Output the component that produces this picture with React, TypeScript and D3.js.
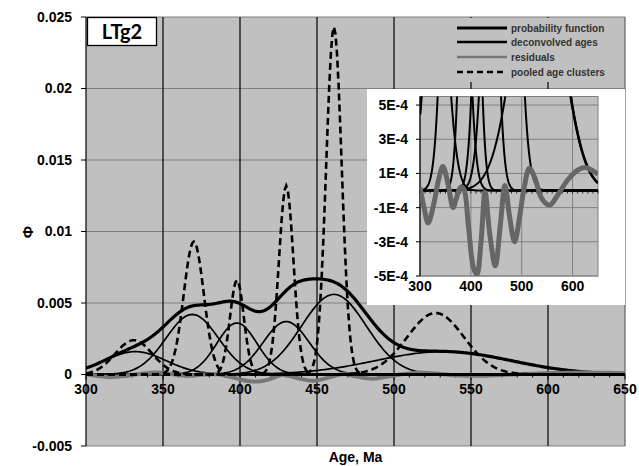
import React from 'react';
import * as d3 from 'd3';

// Axis ticks
const ageTicks = [300, 350, 400, 450, 500, 550, 600, 650];
const phiTicks = [-0.005, 0, 0.005, 0.01, 0.015, 0.02, 0.025];
const phiTickLabels = ['-0.005', '0', '0.005', '0.01', '0.015', '0.02', '0.025'];
const insetAgeTicks = [300, 400, 500, 600];
const insetPhiTicks = [-5e-4, -3e-4, -1e-4, 1e-4, 3e-4, 5e-4];
const insetPhiLabels = ['-5E-4', '-3E-4', '-1E-4', '1E-4', '3E-4', '5E-4'];

// Deconvolved age components: centre (Ma), peak height, standard deviation (Ma)
const componentAges = [332, 369, 398, 430, 461, 532];
const componentHeights = [0.0016, 0.0042, 0.0036, 0.0037, 0.0056, 0.0016];
const componentSigmas = [20, 17, 13, 15, 21, 44];

// Pooled age clusters: centre (Ma), peak height, standard deviation (Ma)
const clusterAges = [331, 370, 398, 430, 461, 527];
const clusterHeights = [0.0024, 0.0093, 0.0066, 0.0132, 0.0243, 0.0043];
const clusterSigmas = [12, 6.5, 4.5, 4.7, 5, 18.5];

// Residuals (observed minus model)
const residualAges = [300, 308, 316, 327, 337, 345, 355, 365, 372, 380, 386, 395, 405, 412, 420, 428, 437, 448, 458, 467, 476, 486, 496, 505, 515, 525, 540, 555, 570, 590, 610, 625, 640, 650];
const residualValues = [0.2e-4, -1.0e-4, -1.9e-4, -0.8e-4, 0.7e-4, 1.4e-4, 0.4e-4, -1.0e-4, -0.4e-4, 0.2e-4, 0.1e-4, -2.0e-4, -4.5e-4, -4.9e-4, -3.0e-4, -0.1e-4, -2.5e-4, -4.4e-4, -2.0e-4, 0.3e-4, -1.5e-4, -3.0e-4, -1.5e-4, 0.2e-4, 1.3e-4, 0.8e-4, -0.5e-4, -0.85e-4, -0.3e-4, 0.6e-4, 1.2e-4, 1.35e-4, 1.15e-4, 0.95e-4];

const legendLabels = ['probability function', 'deconvolved ages', 'residuals', 'pooled age clusters'];

const FONT = '"Liberation Sans", Arial, sans-serif';
const W = 639;
const H = 466;

const ageGrid = d3.range(300, 650.01, 1);
const gauss = (a: number, m: number, h: number, s: number) => h * Math.exp(-((a - m) * (a - m)) / (2 * s * s));

type Pt = [number, number];
const componentCurves: Pt[][] = componentAges.map((m, i) =>
  ageGrid.map((a) => [a, gauss(a, m, componentHeights[i], componentSigmas[i])] as Pt)
);
const clusterCurves: Pt[][] = clusterAges.map((m, i) =>
  ageGrid.map((a) => [a, gauss(a, m, clusterHeights[i], clusterSigmas[i])] as Pt)
);
const probabilityCurve: Pt[] = ageGrid.map((a, j) => [a, d3.sum(componentCurves, (c) => c[j][1])] as Pt);
const residualCurve: Pt[] = residualAges.map((a, i) => [a, residualValues[i]] as Pt);

export default function App() {
  // main panel
  const x = d3.scaleLinear().domain([300, 650]).range([86, 625]);
  const y = d3.scaleLinear().domain([-0.005, 0.025]).range([446, 17]);
  const line = d3.line<Pt>().x((d) => x(d[0])).y((d) => y(d[1]));
  const smooth = d3.line<Pt>().x((d) => x(d[0])).y((d) => y(d[1])).curve(d3.curveCatmullRom.alpha(0.5));

  // inset panel
  const xi = d3.scaleLinear().domain([300, 650]).range([420, 598]);
  const yi = d3.scaleLinear().domain([-0.0005, 0.00055]).range([276, 96.5]);
  const lineI = d3.line<Pt>().x((d) => xi(d[0])).y((d) => yi(d[1]));
  const smoothI = d3.line<Pt>().x((d) => xi(d[0])).y((d) => yi(d[1])).curve(d3.curveCatmullRom.alpha(0.5));

  const [x0, x1] = x.range();
  const [yB, yT] = y.range();
  const [ix0, ix1] = xi.range();
  const [iyB, iyT] = yi.range();

  const minorTicks = d3.range(300, 650.01, 10);
  const legendRowsY = [28, 42, 57, 72];

  return (
    <svg width={W} height={H} style={{ position: 'absolute', left: 0, top: 0, background: '#fff' }} fontFamily={FONT}>
      <defs>
        <clipPath id="mainClip">
          <rect x={x0} y={yT} width={x1 - x0} height={yB - yT} />
        </clipPath>
        <clipPath id="insetClip">
          <rect x={ix0} y={iyT} width={ix1 - ix0} height={iyB - iyT} />
        </clipPath>
      </defs>

      {/* plot background */}
      <rect x={x0} y={yT} width={x1 - x0} height={yB - yT} fill="#c0c0c0" />

      {/* horizontal gridlines */}
      {phiTicks.filter((t) => t !== 0).map((t) => (
        <line key={'hg' + t} x1={x0} x2={x1} y1={y(t)} y2={y(t)} stroke="#808080" strokeWidth={1} />
      ))}
      {/* vertical gridlines */}
      {ageTicks.map((t) => (
        <line key={'vg' + t} x1={x(t)} x2={x(t)} y1={yT} y2={yB} stroke={t === 650 ? '#606060' : '#000'} strokeWidth={1.2} />
      ))}

      {/* y ticks */}
      {phiTicks.map((t, i) => (
        <g key={'yt' + t}>
          <line x1={x0 - 5} x2={x0} y1={y(t)} y2={y(t)} stroke="#000" />
          <text x={x0 - 14} y={y(t)} dy="0.35em" textAnchor="end" fontSize={14} fontWeight="bold" fill="#000">
            {phiTickLabels[i]}
          </text>
        </g>
      ))}

      {/* zero axis with ticks */}
      <line x1={x0} x2={x1} y1={y(0)} y2={y(0)} stroke="#000" strokeWidth={1.2} />
      {minorTicks.map((t) => (
        <line key={'mt' + t} x1={x(t)} x2={x(t)} y1={y(0)} y2={y(0) + (t % 50 === 0 ? 5 : 3)} stroke="#000" strokeWidth={1} />
      ))}
      {ageTicks.map((t) => (
        <text key={'xl' + t} x={x(t)} y={y(0) + 19} textAnchor="middle" fontSize={14} fontWeight="bold" fill="#000">
          {t}
        </text>
      ))}

      {/* series */}
      <g clipPath="url(#mainClip)" fill="none">
        {componentCurves.map((c, i) => (
          <path key={'c' + i} d={line(c) || ''} stroke="#000" strokeWidth={1.7} />
        ))}
        <path d={line(probabilityCurve) || ''} stroke="#000" strokeWidth={3.2} />
        <path d={smooth(residualCurve) || ''} stroke="#777" strokeWidth={4} />
        {clusterCurves.map((c, i) => (
          <path key={'d' + i} d={line(c) || ''} stroke="#000" strokeWidth={2.6} strokeDasharray="7,4" />
        ))}
      </g>

      {/* axis titles */}
      <text x={(x0 + x1) / 2} y={462} textAnchor="middle" fontSize={14} fontWeight="bold" fill="#000">Age, Ma</text>
      <text transform="translate(33,232) rotate(-90)" textAnchor="middle" fontSize={15} fontWeight="bold" fill="#000">Φ</text>

      {/* sample label */}
      <rect x={87.5} y={17.5} width={69} height={28} fill="#fff" stroke="#000" strokeWidth={1.3} />
      <text x={122} y={39} textAnchor="middle" fontSize={20} fontWeight="bold" fontFamily="Lato, 'Open Sans', sans-serif" fill="#000">LTg2</text>

      {/* legend */}
      <rect x={450} y={18} width={174} height={64} fill="#c0c0c0" />
      {legendLabels.map((lab, i) => (
        <g key={'lg' + i}>
          <line
            x1={457}
            x2={507}
            y1={legendRowsY[i]}
            y2={legendRowsY[i]}
            stroke={i === 2 ? '#777' : '#000'}
            strokeWidth={i === 0 ? 3 : 2.6}
            strokeDasharray={i === 3 ? '6,4' : undefined}
          />
          <text x={511} y={legendRowsY[i]} dy="0.35em" fontSize={10} fontWeight="bold" fill="#333">{lab}</text>
        </g>
      ))}

      {/* inset */}
      <rect x={367} y={89} width={258} height={216} fill="#fff" />
      <rect x={ix0} y={iyT} width={ix1 - ix0} height={iyB - iyT} fill="#c0c0c0" stroke="#808080" strokeWidth={1} />
      {insetPhiTicks.map((t) => (
        <line key={'ihg' + t} x1={ix0} x2={ix1} y1={yi(t)} y2={yi(t)} stroke="#808080" strokeWidth={1} />
      ))}
      {[400, 500, 600].map((t) => (
        <line key={'ivg' + t} x1={xi(t)} x2={xi(t)} y1={iyT} y2={iyB} stroke="#808080" strokeWidth={1} />
      ))}
      <line x1={ix0} x2={ix0} y1={iyT} y2={iyB} stroke="#000" strokeWidth={1.2} />
      {insetPhiTicks.map((t, i) => (
        <g key={'iyt' + t}>
          <line x1={ix0 - 4} x2={ix0} y1={yi(t)} y2={yi(t)} stroke="#000" />
          <text x={ix0 - 12} y={yi(t)} dy="0.35em" textAnchor="end" fontSize={14} fontWeight="bold" fill="#000">
            {insetPhiLabels[i]}
          </text>
        </g>
      ))}
      <line x1={ix0} x2={ix1} y1={yi(0)} y2={yi(0)} stroke="#000" strokeWidth={1.2} />
      {minorTicks.map((t) => (
        <line key={'imt' + t} x1={xi(t)} x2={xi(t)} y1={yi(0)} y2={yi(0) + 3} stroke="#000" strokeWidth={0.8} />
      ))}
      {insetAgeTicks.map((t) => (
        <text key={'ixl' + t} x={xi(t)} y={iyB + 15} textAnchor="middle" fontSize={14} fontWeight="bold" fill="#000">
          {t}
        </text>
      ))}
      <g clipPath="url(#insetClip)" fill="none">
        {componentCurves.map((c, i) => (
          <path key={'ic' + i} d={lineI(c) || ''} stroke="#000" strokeWidth={2} />
        ))}
        <path d={lineI(probabilityCurve) || ''} stroke="#000" strokeWidth={2.6} />
        <path d={smoothI(residualCurve) || ''} stroke="#666" strokeWidth={5} />
      </g>
    </svg>
  );
}
